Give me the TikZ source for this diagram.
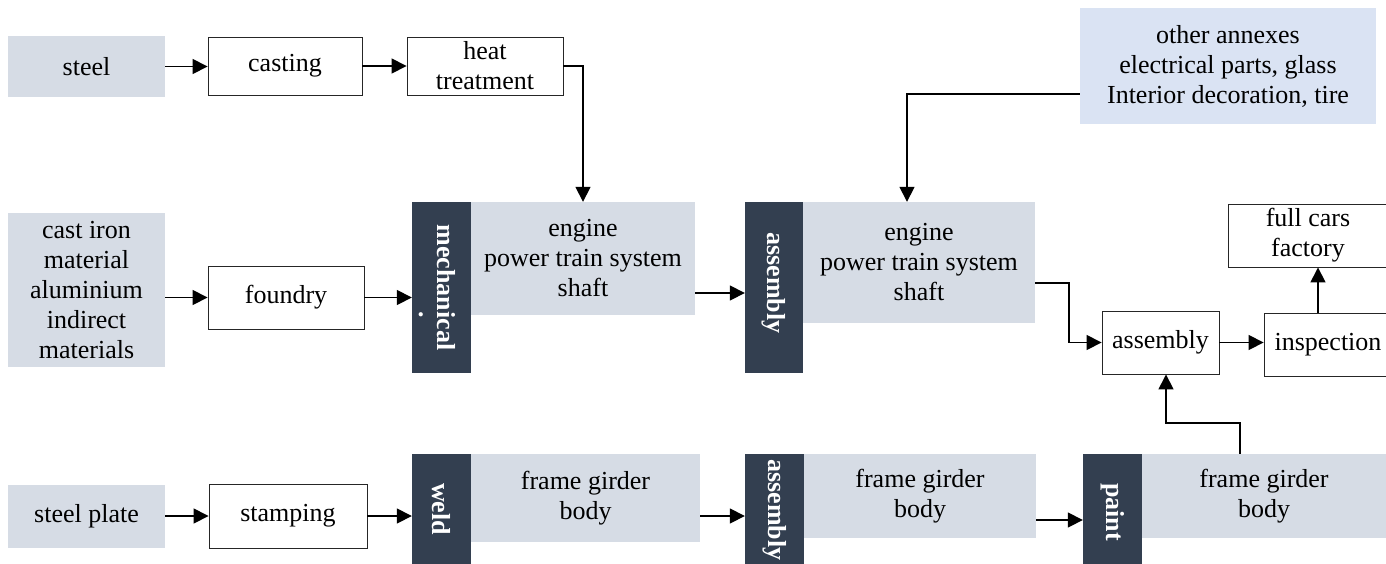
\documentclass[tikz,border=0pt]{standalone}
\usepackage{fontspec}
\setmainfont{Liberation Serif}
\usetikzlibrary{arrows.meta}
\definecolor{lightg}{HTML}{D6DCE5}
\definecolor{lightb}{HTML}{DAE3F3}
\definecolor{darkbar}{HTML}{333F50}
\tikzset{
  base/.style={inner sep=0pt, align=center, font=\fontsize{26}{30}\selectfont},
  gbox/.style={base, fill=lightg},
  bbox/.style={base, fill=lightb},
  wbox/.style={base, draw=black!85, line width=0.9pt, fill=white},
  bar/.style={fill=darkbar, inner sep=0pt},
  bartext/.style={text=white, rotate=-90, inner sep=0pt, align=center, font=\fontsize{26}{18}\selectfont\bfseries},
  arr/.style={line width=1.6pt, -{Triangle[length=15pt,width=15pt]}},
  ln/.style={line width=1.6pt}
}
\begin{document}
\begin{tikzpicture}[x=1pt,y=-1pt]
\useasboundingbox (0,0) rectangle (1386,563);
\clip (0,0) rectangle (1386,563);
% top row
\node[gbox, minimum width=157pt, minimum height=61pt] (steel) at (86.5,66.5) {steel};
\node[wbox, minimum width=154pt, minimum height=58pt] (casting) at (285,66) {casting};
\node[wbox, minimum width=156pt, minimum height=58pt] (heat) at (485,66) {heat\\treatment};
\node[bbox, minimum width=296pt, minimum height=116pt] (annex) at (1228,66) {other annexes\\electrical parts, glass\\Interior decoration, tire};
% middle row
\node[gbox, minimum width=157pt, minimum height=154pt] (castiron) at (86.5,290) {cast iron\\material\\aluminium\\indirect\\materials};
\node[wbox, minimum width=156pt, minimum height=63pt] (foundry) at (286,297.5) {foundry};
\node[bar, minimum width=59pt, minimum height=171pt] (mech) at (441.5,287.5) {};
\node[gbox, minimum width=224pt, minimum height=113pt] (engine1) at (583,258.5) {engine\\power train system\\shaft};
\node[bartext] (mechtext) at ([xshift=-4pt]mech.center) {mechanical\\\hspace*{2.1em}.};
\node[bar, minimum width=58pt, minimum height=171pt] (asm1) at (774,287.5) {};
\node[bartext] (asm1text) at (774,283) {assembly};
\node[gbox, minimum width=232pt, minimum height=121pt] (engine2) at (919,262.5) {engine\\power train system\\shaft};
\node[wbox, minimum width=117pt, minimum height=63pt] (assembly) at (1160.5,342.5) {assembly};
\node[wbox, minimum width=128pt, minimum height=63pt] (inspection) at (1328,344.5) {inspection};
\node[wbox, minimum width=160pt, minimum height=63pt] (fullcars) at (1308,235.5) {full cars\\factory};
% bottom row
\node[gbox, minimum width=157pt, minimum height=63pt] (steelplate) at (86.5,516) {steel plate};
\node[wbox, minimum width=158pt, minimum height=64pt] (stamping) at (288,516) {stamping};
\node[bar, minimum width=59pt, minimum height=114pt] (weld) at (441.5,511) {};
\node[gbox, minimum width=229pt, minimum height=88pt] (frame1) at (585.5,498) {frame girder\\body};
\node[bartext] (weldtext) at (441.5,509) {weld};
\node[bar, minimum width=59pt, minimum height=114pt] (asm2) at (774.5,511) {};
\node[gbox, minimum width=232pt, minimum height=84pt] (frame2) at (920,496) {frame girder\\body};
\node[bartext] (asm2text) at (774.5,510) {assembly};
\node[bar, minimum width=59pt, minimum height=114pt] (paint) at (1112.5,511) {};
\node[gbox, minimum width=244pt, minimum height=84pt] (frame3) at (1264,496) {frame girder\\body};
\node[bartext] (painttext) at (1112.5,512) {paint};
% connectors
\draw[arr] (steel.east) -- (steel.east -| casting.west);
\draw[arr] (casting.east) -- (heat.west);
\draw[arr] (heat.east) -| (engine1.north);
\draw[arr] (castiron.east |- foundry.west) -- (foundry.west);
\draw[arr] (foundry.east) -- (foundry.east -| mech.west);
\draw[arr] (engine1.east |- 0,293) -- (asm1.west |- 0,293);
\draw[arr] (annex.west |- 0,94) -| ([xshift=-12pt]engine2.north);
\draw[arr] (engine2.east |- 0,283) -- (1069,283) |- (assembly.west);
\draw[arr] (assembly.east) -- (assembly.east -| inspection.west);
\draw[arr] (1318,0 |- inspection.north) -- (1318,0 |- fullcars.south);
\draw[arr] (1240,0 |- frame3.north) -- (1240,423) -| ([xshift=5.5pt]assembly.south);
\draw[arr] (steelplate.east |- stamping.west) -- (stamping.west);
\draw[arr] (stamping.east) -- (stamping.east -| weld.west);
\draw[arr] (frame1.east |- 0,516) -- (asm2.west |- 0,516);
\draw[arr] (frame2.east |- 0,520) -- (paint.west |- 0,520);
\end{tikzpicture}
\end{document}
